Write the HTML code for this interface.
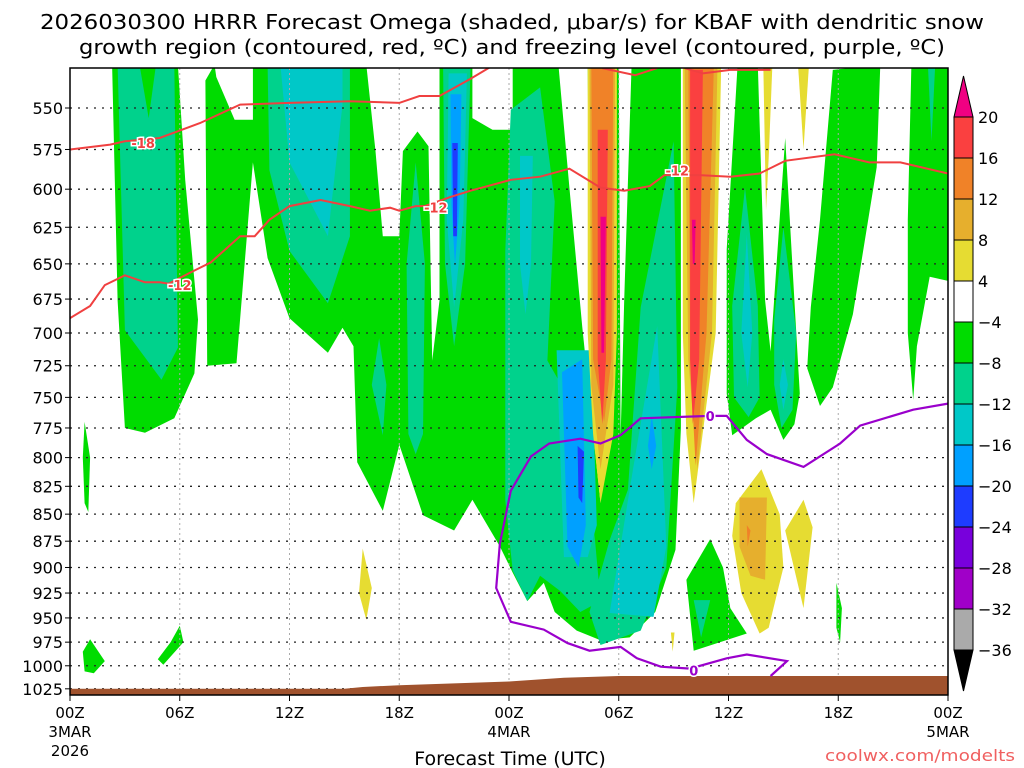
<!DOCTYPE html>
<html><head><meta charset="utf-8"><style>
html,body{margin:0;padding:0;background:#fff;width:1024px;height:768px;overflow:hidden}
svg{display:block}
text{font-family:"DejaVu Sans","Liberation Sans",sans-serif}
</style></head><body>
<svg id="chart" width="1024" height="768" xmlns="http://www.w3.org/2000/svg">
<text x="512" y="29" text-anchor="middle" font-size="20" textLength="944" lengthAdjust="spacingAndGlyphs">2026030300 HRRR Forecast Omega (shaded, μbar/s) for KBAF with dendritic snow</text>
<text x="512" y="54" text-anchor="middle" font-size="20" textLength="866" lengthAdjust="spacingAndGlyphs">growth region (contoured, red, ºC) and freezing level (contoured, purple, ºC)</text>
<g id="plot"></g>
<g id="axes"></g>
<g id="cbar"></g>
<text x="510" y="765" text-anchor="middle" font-size="19" font-family="Liberation Sans, sans-serif">Forecast Time (UTC)</text>
<text x="1015" y="761" text-anchor="end" font-size="16" fill="#f06060" font-family="Liberation Sans, sans-serif" textLength="190" lengthAdjust="spacingAndGlyphs">coolwx.com/modelts</text>
</svg>
<script>
const hourTicks=[0,6,12,18,24,30,36,42,48];
const hourLabels=["00Z","06Z","12Z","18Z","00Z","06Z","12Z","18Z","00Z"];
const dateLabels=[[0,"3MAR"],[24,"4MAR"],[48,"5MAR"]];
const pressureTicks=[550,575,600,625,650,675,700,725,750,775,800,825,850,875,900,925,950,975,1000,1025];
const greenAreas=[
[[2.3,525],[5.9,525],[6.3,594],[7.0,690],[6.8,731],[5.7,767],[4.1,779],[3.0,775],[2.6,676]],
[[7.4,534],[7.9,525],[33.4,525],[33.4,775],[33.1,883],[32.0,944],[30.6,970],[29.0,973],[27.7,963],[26.5,944],[25.9,915],[25.0,933],[24.2,905],[23.5,880],[22.0,837],[21.0,865],[19.3,851],[18.0,789],[17.1,847],[15.7,804],[15.5,710],[14.9,696],[14.1,715],[12.0,689],[10.8,646],[10.0,583],[9.1,723],[7.5,725]],
[[36.5,525],[37.6,525],[38.0,676],[38.3,714],[39.1,568],[39.6,676],[39.9,747],[39.6,772],[39.0,785],[38.3,760],[37.5,767],[36.2,781],[35.9,747],[35.9,640]],
[[41.7,528],[44.3,525],[44.1,586],[42.8,686],[41.7,742],[41.0,757],[40.3,727],[40.5,681],[41.0,620]],
[[46.0,525],[48,525],[48,662],[47.0,659],[46.3,710],[46.1,752],[45.8,700],[45.8,620]],
[[0.7,985],[1.1,972],[1.9,995],[1.3,1008],[0.8,1006]],
[[6.0,958],[6.2,975],[5.1,999],[4.8,993],[5.5,975]],
[[0.8,770],[1.1,800],[1.0,848],[0.8,840],[0.7,800]],
[[35.0,873],[35.7,900],[36.1,940],[37.0,966],[34.1,984],[33.7,912]],
[[41.9,915],[42.2,940],[42.1,975],[41.9,960]]
];
const whiteHoles=[
[[7.9,525],[10.0,525],[10.0,557],[9.0,557],[8.0,532]],
[[16.2,525],[16.7,576],[17.1,631],[18.0,631],[18.2,576],[19.0,564],[19.6,573],[19.8,721],[20.2,676],[20.2,525]],
[[22.0,525],[22.0,556],[23.1,563],[24.2,563],[24.2,525]],
[[26.7,525],[28.3,525],[28.4,676],[28.8,783],[29.0,840],[28.0,695],[27.3,599]],
[[30.0,525],[30.7,525],[30.3,676],[30.1,783]]
];
const tealAreas=[
[[2.6,525],[3.8,525],[4.3,556],[4.7,525],[5.7,525],[5.9,711],[5.0,736],[3.0,698]],
[[10.8,525],[15.3,525],[15.3,631],[14.1,678],[12.0,641],[10.9,588]],
[[18.9,583],[19.4,650],[19.3,780],[18.9,797],[18.5,780],[18.4,650]],
[[16.9,704],[17.3,740],[17.1,781],[16.5,740]],
[[20.4,525],[21.9,525],[21.6,650],[21.0,710],[20.5,650]],
[[24.1,551],[25.7,538],[26.5,608],[26.1,721],[27.9,767],[28.7,874],[29.0,933],[27.9,944],[26.8,923],[25.7,908],[25.0,933],[24.2,903],[23.8,837],[23.8,641]],
[[33.0,570],[33.2,742],[32.6,900],[31.2,963],[29.0,978],[28.4,944],[29.5,874],[30.5,828],[31.2,681]],
[[36.9,599],[37.6,680],[37.7,750],[37.1,766],[36.3,750],[36.2,680]],
[[39.0,625],[39.7,700],[39.5,760],[38.9,775],[38.5,740],[38.5,690]],
[[34.1,932],[35.0,932],[34.5,970]],
[[46.9,525],[47.3,525],[47.1,570]]
];
const cyanAreas=[
[[11.5,525],[14.9,525],[14.9,548],[14.1,631],[12.0,583]],
[[20.7,530],[21.7,530],[21.5,620],[21.0,681],[20.6,620]],
[[24.6,579],[25.3,579],[25.2,650],[24.9,686],[24.6,650]],
[[26.6,713],[28.5,713],[28.8,860],[28.3,890],[27.0,890]],
[[32.1,695],[32.6,880],[31.9,949],[29.5,945],[30.8,808]],
[[37.0,630],[37.3,700],[37.05,742],[36.7,700]],
[[39.0,720],[39.25,740],[39.0,760],[38.8,740]]
];
const lightBlueAreas=[
[[20.8,542],[21.4,542],[21.3,610],[21.05,651],[20.85,610]],
[[26.9,730],[28.0,720],[28.2,860],[27.8,900],[27.2,880]],
[[31.8,765],[32.05,790],[31.8,810],[31.6,790]]
];
const blueAreas=[
[[20.9,571],[21.2,571],[21.15,631],[20.95,631]],
[[27.75,790],[28.1,795],[28.0,840],[27.8,835]]
];
const yellowAreas=[
[[28.3,525],[29.9,525],[29.9,700],[29.7,780],[29.0,840],[28.6,780],[28.3,700]],
[[33.5,525],[35.6,525],[35.3,700],[34.5,790],[34.1,840],[33.7,780],[33.5,700]],
[[37.9,525],[38.4,525],[38.2,580],[38.05,614]],
[[39.8,525],[40.4,525],[40.1,575]],
[[37.8,810],[38.8,850],[39.0,900],[38.2,960],[37.7,966],[36.7,925],[36.2,870],[36.4,840]],
[[39.1,865],[40.1,837],[40.6,862],[40.1,940]],
[[16.0,882],[16.5,920],[16.2,952],[15.8,925]],
[[32.85,965],[33.05,965],[32.95,985]]
];
const goldAreas=[
[[28.4,525],[29.8,525],[29.7,740],[29.0,810],[28.5,740]],
[[33.6,525],[35.4,525],[35.1,700],[34.3,810],[33.8,720]],
[[36.6,835],[38.1,835],[38.0,912],[37.2,908],[36.6,880]]
];
const orangeAreas=[
[[28.5,525],[29.7,525],[29.6,720],[29.2,770],[28.6,720]],
[[33.8,525],[35.2,525],[34.8,700],[34.2,807],[33.9,720]],
[[37.0,860],[37.2,865],[37.05,880]]
];
const redAreas=[
[[28.85,563],[29.4,563],[29.3,720],[29.1,772],[28.85,720]],
[[33.9,528],[34.6,528],[34.4,720],[34.05,772],[33.9,720]]
];
const magentaAreas=[
[[29.0,618],[29.3,618],[29.2,715],[29.05,715]],
[[34.0,620],[34.2,620],[34.15,650],[34.05,650]]
];
const terrain=[[0,1025],[15,1025],[16,1023],[18,1021],[24,1017],[27,1013],[30,1011],[48,1011]];
const dgzLines=[
[[0,575],[2.2,572],[3.0,570],[4.9,568],[7.1,559],[9.3,548],[12.0,547],[15.3,546],[18.0,547],[19.1,543],[20.2,543],[21.9,533],[23.2,525]],
[[29.1,527],[30.9,531],[32.1,527]],
[[33.6,527],[34.6,530],[36.1,528],[38.3,528]],
[[0,689],[1.1,680],[1.9,665],[3.0,658],[4.1,663],[4.9,663],[5.4,664],[6.6,656],[7.7,649],[9.3,631],[10.1,631],[10.9,620],[12.0,611],[13.7,607],[15.3,611],[16.4,614],[17.5,612],[18.0,614],[18.9,611],[19.4,611],[20.8,605],[21.9,601],[24.1,594],[25.7,592],[27.3,587],[29.0,599],[30.3,601],[31.7,598],[32.5,591],[34.4,591],[36.1,592],[37.7,590],[39.1,582],[41.8,578],[43.7,583],[45.4,583],[48,590]]
];
const dgzLabels=[[4.0,571,"-18"],[6.0,665,"-12"],[20.0,612,"-12"],[33.2,588,"-12"]];
const freezeLine=[[48,755],[46.1,760],[43.2,773],[42.1,788],[40.1,808],[38.1,797],[37.0,785],[35.9,765],[35.0,765],[31.2,767],[30.1,781],[29.0,788],[27.9,784],[26.2,788],[25.2,799],[24.1,829],[23.5,877],[23.3,920],[24.1,954],[25.9,962],[27.2,976],[28.4,984],[30.1,980],[31.0,992],[32.3,1001],[33.9,1003],[35.9,992],[37.0,988],[39.2,995],[38.3,1011]];
const freezeLabels=[[35.0,765,"0"],[34.1,1005,"0"]];
const cbLabels=["20","16","12","8","4","−4","−8","−12","−16","−20","−24","−28","−32","−36"];
const cbColors=["#fa4040","#f08228","#e6af2d","#e6dc32","#ffffff","#00dc00","#00d28c","#00c8c8","#00a0ff","#1e3cff","#7800dc","#a000c8","#aaaaaa"];

(function(){
const X0=70,X1=948,Y0=68,Y1=695;
const NS="http://www.w3.org/2000/svg";
function xs(h){return X0+(X1-X0)*h/48;}
function ys(p){return 108+933*(Math.log(p)-Math.log(550));}
function mk(tag,attrs,parent){const e=document.createElementNS(NS,tag);for(const k in attrs)e.setAttribute(k,attrs[k]);parent.appendChild(e);return e;}
const plot=document.getElementById('plot');
const defs=mk('defs',{},plot);
const cp=mk('clipPath',{id:'clip'},defs);
mk('rect',{x:X0,y:Y0,width:X1-X0,height:Y1-Y0},cp);
const fills=mk('g',{'clip-path':'url(#clip)'},plot);
function poly(pts){return pts.map(q=>xs(q[0]).toFixed(1)+','+ys(q[1]).toFixed(1)).join(' ');}
function drawAreas(list,color,name){list.forEach(a=>{const e=mk('polygon',{points:poly(a),fill:color},fills);

});}
drawAreas(greenAreas,'#00dc00','omega-area-green');
drawAreas(whiteHoles,'#ffffff','omega-area-white');
drawAreas(tealAreas,'#00d28c','omega-area-teal');
drawAreas(cyanAreas,'#00c8c8','omega-area-cyan');
drawAreas(lightBlueAreas,'#00a0ff','omega-area-lightblue');
drawAreas(blueAreas,'#1e3cff','omega-area-blue');
drawAreas(yellowAreas,'#e6dc32','omega-area-yellow');
drawAreas(goldAreas,'#e6af2d','omega-area-gold');
drawAreas(orangeAreas,'#f08228','omega-area-orange');
drawAreas(redAreas,'#fa4040','omega-area-red');
drawAreas(magentaAreas,'#f00082','omega-area-magenta');
pressureTicks.forEach(p=>{const e=mk('line',{x1:X0,x2:X1,y1:ys(p),y2:ys(p),stroke:'#222','stroke-width':1.3,'stroke-dasharray':'2,6'},fills);

});
hourTicks.forEach(h=>{const e=mk('line',{x1:xs(h),x2:xs(h),y1:Y0,y2:Y1,stroke:'#aaa','stroke-width':1,'stroke-dasharray':'2,3'},fills);

});
const tpts=terrain.concat([[48,1040],[0,1040]]);
const terr=mk('polygon',{points:poly(tpts),fill:'#a0522d'},fills);


dgzLines.forEach(l=>{const e=mk('polyline',{points:poly(l),fill:'none',stroke:'#f04040','stroke-width':2},fills);

});
const fl=mk('polyline',{points:poly(freezeLine),fill:'none',stroke:'#9a00cc','stroke-width':2.2},fills);


dgzLabels.forEach(d=>{const t=mk('text',{x:xs(d[0]),y:ys(d[1])+5,'text-anchor':'middle','font-size':13,'font-weight':'bold',fill:'#f04040',stroke:'#fff','stroke-width':3,'paint-order':'stroke'},fills);t.textContent=d[2];

});
freezeLabels.forEach(d=>{const t=mk('text',{x:xs(d[0]),y:ys(d[1])+5,'text-anchor':'middle','font-size':13,'font-weight':'bold',fill:'#9a00cc',stroke:'#fff','stroke-width':3,'paint-order':'stroke'},fills);t.textContent=d[2];

});
const ax=document.getElementById('axes');
const fr=mk('rect',{x:X0,y:Y0,width:X1-X0,height:Y1-Y0,fill:'none',stroke:'#000','stroke-width':1.5},ax);


pressureTicks.forEach(p=>{mk('line',{x1:X0-5,x2:X0,y1:ys(p),y2:ys(p),stroke:'#000'},ax);
const t=mk('text',{x:63,y:ys(p)+6,'text-anchor':'end','font-size':16,fill:'#000'},ax);t.textContent=p;

});
hourTicks.forEach((h,i)=>{mk('line',{x1:xs(h),x2:xs(h),y1:Y1,y2:Y1+6,stroke:'#000'},ax);
const t=mk('text',{x:xs(h),y:718,'text-anchor':'middle','font-size':15,fill:'#000','font-family':'Liberation Sans, sans-serif'},ax);t.textContent=hourLabels[i];

});
dateLabels.forEach(d=>{const t=mk('text',{x:xs(d[0]),y:737,'text-anchor':'middle','font-size':15,fill:'#000','font-family':'Liberation Sans, sans-serif'},ax);t.textContent=d[1];

});
const yr=mk('text',{x:xs(0),y:756,'text-anchor':'middle','font-size':15,fill:'#000','font-family':'Liberation Sans, sans-serif'},ax);yr.textContent='2026';


const cb=document.getElementById('cbar');
const bx=954,bw=19,cbTop=117,cbBot=650,bh=(cbBot-cbTop)/cbColors.length;
const tri1=mk('polygon',{points:`${bx},${cbTop} ${bx+bw},${cbTop} ${bx+bw/2},76`,fill:'#f00082',stroke:'#000'},cb);


cbColors.forEach((c,i)=>{const r=mk('rect',{x:bx,y:cbTop+i*bh,width:bw,height:bh,fill:c,stroke:'#000','stroke-width':1},cb);

});
const tri2=mk('polygon',{points:`${bx},${cbBot} ${bx+bw},${cbBot} ${bx+bw/2},691`,fill:'#000',stroke:'#000'},cb);


cbLabels.forEach((l,i)=>{const t=mk('text',{x:978,y:cbTop+i*bh+6,'font-size':16,fill:'#000'},cb);t.textContent=l;

});
})();
</script>
</body></html>
